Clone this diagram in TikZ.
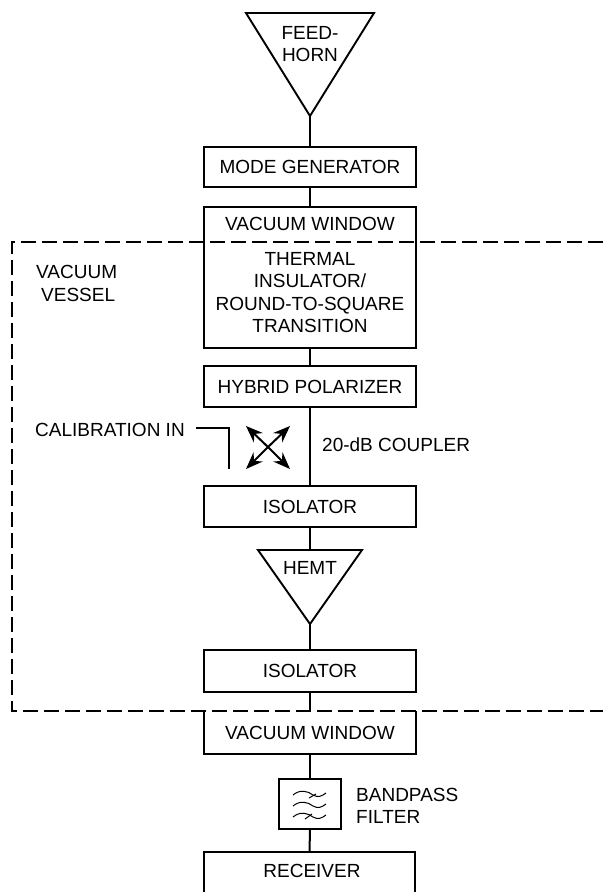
\documentclass[tikz,border=0pt]{standalone}
\usepackage{fontspec}
\setmainfont{Liberation Sans}
\usetikzlibrary{arrows.meta}
\tikzset{x=1pt,y=-1pt,
 blockbox/.style={draw,line width=1.9pt,align=center,inner sep=0pt,outer sep=0pt,font=\fontsize{19}{22.5}\selectfont},
 plainbox/.style={blockbox,draw=none},
 wire/.style={line width=2pt},
 horn/.style={line width=1.9pt},
 lab/.style={align=left,inner sep=0pt,font=\fontsize{19}{22.5}\selectfont},
 vessel/.style={line width=1.6pt,dash pattern=on 15pt off 6pt},
 cpl/.style={line width=2pt,-{Stealth[length=17pt,width=13pt]}},
 ripple/.style={line width=1pt}}
\newcommand{\blk}[7][blockbox]{\node[#1,minimum width=#5pt,minimum height=#6pt,anchor=north west] (#2) at (#3,#4) {#7};}
\begin{document}
\begin{tikzpicture}
\useasboundingbox (0,0) rectangle (603,892);
\fill[white] (0,0) rectangle (603,892);
\draw[horn] (246,13) -- (374,13) -- (310,116) coordinate (hapex) -- cycle;
\node[lab,align=center] (feed) at (310,44) {FEED-\\HORN};
\blk{mode}{204}{147}{212}{40}{\raisebox{-1.5pt}{MODE GENERATOR}}
\blk[plainbox]{win}{204}{207}{212}{33}{VACUUM WINDOW}
\blk[plainbox]{therm}{204}{240}{212}{108}{}
\node[plainbox] (thermtext) at (310,292.5) {THERMAL\\INSULATOR/\\ROUND-TO-SQUARE\\TRANSITION};
\draw[horn] (win.north west) -- (win.north east) -- (therm.south east) -- (therm.south west) -- cycle;
\blk{hyb}{204}{366}{212}{41}{HYBRID POLARIZER}
\blk{iso}{204}{486}{212}{41}{ISOLATOR}
\draw[horn] (258,550) -- (362,550) -- (310,624) coordinate (hemtapex) -- cycle;
\node[lab,align=center] (hemt) at (310,568) {HEMT};
\coordinate (hemttop) at (310,550);
\blk{iso2}{204}{650}{212}{42}{ISOLATOR}
\blk[plainbox]{win2}{204}{711}{212}{43}{VACUUM WINDOW}
\draw[horn] (win2.north west) -- (win2.south west) -- (win2.south east) -- (win2.north east);
\blk{filt}{279}{779}{62}{50}{}
\blk{rec}{204}{852}{211}{50}{}
\node[lab] (rectext) at (312,871) {RECEIVER};
\coordinate (vs) at (603,242); \coordinate (vc) at (12,242); \coordinate (vb) at (12,711); \coordinate (ve) at (603,711);
\draw[wire] (hapex) -- (mode.north);
\draw[wire] (mode) -- (win);
\draw[wire] (therm) -- (hyb);
\draw[wire] (hyb) -- (iso);
\draw[wire] (iso) -- (hemttop);
\draw[wire] (hemtapex) -- (iso2);
\draw[wire] (iso2) -- (win2);
\draw[wire] (win2) -- (filt);
\draw[wire] (filt) -- (rec);
\draw[vessel] (vs) -- (vc) -- (vb) -- (ve);
\node[lab,anchor=north west] (vv) at (36,265.5) {VACUUM\\\hspace{5pt}VESSEL};
\node[lab,anchor=west] (cal) at (35,430) {CALIBRATION IN};
\coordinate (c1) at (196,428); \coordinate (c2) at (229,428); \coordinate (c3) at (229,469);
\draw[wire] (c1) -- (c2) -- (c3);
\coordinate (cc) at (268,447);
\coordinate (ca) at (246,426); \coordinate (cb) at (290,426); \coordinate (cd) at (246,469); \coordinate (ce) at (290,469);
\draw[cpl] (cc) -- (ca); \draw[cpl] (cc) -- (cb); \draw[cpl] (cc) -- (cd); \draw[cpl] (cc) -- (ce);
\node[lab,anchor=west] (coup) at (322,445) {20-dB COUPLER};
\node[lab,anchor=west] (bp) at (356,806) {BANDPASS\\FILTER};
\foreach \yy in {793,804,815}{
 \draw[ripple] (293,\yy+2) .. controls (300,\yy-4) and (308,\yy-2) .. (313,\yy+2) .. controls (318,\yy+5) and (322,\yy+3) .. (326,\yy);
}
\draw[ripple] (309,798) -- (316,794);
\draw[ripple] (305,819) -- (312,814);
\end{tikzpicture}
\end{document}
